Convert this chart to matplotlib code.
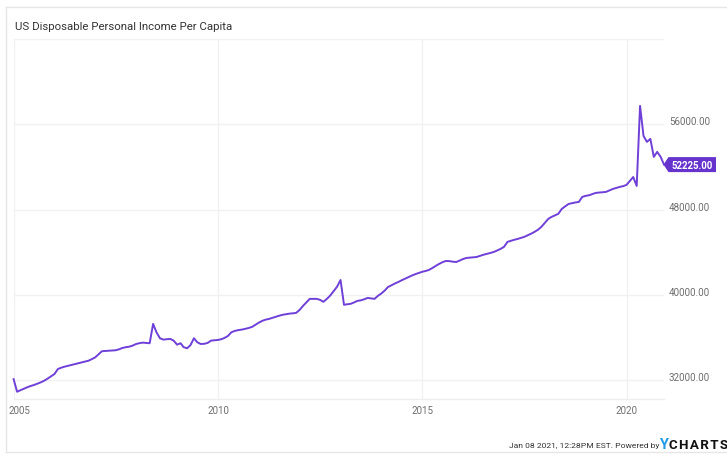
import matplotlib
matplotlib.use('Agg')
import matplotlib.pyplot as plt
from matplotlib.patches import Polygon
from matplotlib.lines import Line2D
import matplotlib.transforms as mtrans
import pandas as pd
import numpy as np

plt.rcParams['font.family'] = ['Roboto', 'DejaVu Sans']

# ---- data (monthly, month-end dated, Dec 2004 - Nov 2020) ----
start_date = '2004-12-31'
v2004 = [32080]
v2005 = [30900, 31030, 31180, 31310, 31430, 31530, 31660, 31780, 31930, 32130, 32340, 32560]
v2006 = [33030, 33150, 33250, 33330, 33410, 33500, 33580, 33660, 33730, 33810, 33960, 34130]
v2007 = [34430, 34700, 34730, 34750, 34770, 34790, 34880, 35010, 35080, 35130, 35230, 35380]
v2008 = [35460, 35510, 35480, 35450, 37270, 36480, 35920, 35790, 35830, 35860, 35700, 35320]
v2009 = [35450, 35080, 34980, 35280, 35920, 35540, 35380, 35400, 35480, 35700, 35730, 35760]
v2010 = [35830, 35950, 36140, 36480, 36610, 36680, 36730, 36800, 36880, 36980, 37180, 37380]
v2011 = [37550, 37660, 37730, 37830, 37930, 38030, 38120, 38180, 38230, 38260, 38300, 38580]
v2012 = [38960, 39280, 39620, 39620, 39620, 39530, 39340, 39620, 39930, 40350, 40760, 41390]
v2013 = [39060, 39110, 39150, 39280, 39430, 39480, 39580, 39710, 39660, 39620, 39900, 40130]
v2014 = [40410, 40730, 40890, 41060, 41200, 41360, 41510, 41670, 41810, 41940, 42050, 42160]
v2015 = [42240, 42330, 42510, 42710, 42900, 43060, 43180, 43160, 43110, 43080, 43210, 43360]
v2016 = [43460, 43490, 43520, 43550, 43660, 43760, 43840, 43930, 44020, 44160, 44310, 44500]
v2017 = [44970, 45060, 45160, 45240, 45340, 45440, 45590, 45740, 45910, 46110, 46380, 46760]
v2018 = [47130, 47310, 47460, 47600, 48060, 48300, 48530, 48600, 48670, 48720, 49190, 49290]
v2019 = [49350, 49450, 49570, 49600, 49630, 49660, 49800, 49940, 50030, 50130, 50200, 50320]
v2020 = [50700, 51060, 50220, 57740, 54920, 54360, 54640, 52950, 53420, 52950, 52225]

yticks = [32000, 40000, 48000, 56000]
ytick_labels = ['32000.00', '40000.00', '48000.00', '56000.00']
xtick_years = [2005, 2010, 2015, 2020]
xtick_labels = ['2005', '2010', '2015', '2020']
title = 'US Disposable Personal Income Per Capita'
last_label = '52225.00'

values = np.array(v2004 + v2005 + v2006 + v2007 + v2008 + v2009 + v2010 + v2011 +
                  v2012 + v2013 + v2014 + v2015 + v2016 + v2017 + v2018 + v2019 + v2020)
dates = pd.date_range(start_date, periods=len(values), freq='ME')

# ---- figure ----
W, H = 727, 456
fig = plt.figure(figsize=(W / 100, H / 100), dpi=100)

def fx(x):
    return x / W

def fy(y):
    return 1 - y / H

# outer border (left, top, bottom)
bc = '#e6e6e6'
fig.add_artist(Line2D([fx(6), fx(6)], [fy(8), fy(453)], color=bc, lw=1))
fig.add_artist(Line2D([fx(6), 1.0], [fy(8), fy(8)], color=bc, lw=1))
fig.add_artist(Line2D([fx(6), 1.0], [fy(453), fy(453)], color=bc, lw=1))

L, R, T, B = 13.6, 664.0, 40.2, 400.0
ax = fig.add_axes([fx(L), fy(B), fx(R) - fx(L), fy(T) - fy(B)])
ax.set_xlim(dates[0], dates[-1])
ax.set_ylim(30216, 64000)
for s in ax.spines.values():
    s.set_visible(False)
ax.set_xticks([])
ax.set_yticks([])

grid_c = '#f1f1f1'
for v in yticks + [64000]:
    ax.axhline(v, color=grid_c, lw=1, zorder=0)
for yr in xtick_years:
    ax.axvline(pd.Timestamp(f'{yr}-01-01'), color=grid_c, lw=1, zorder=0)
ax.axhline(30216, color='#eeeeee', lw=1, zorder=0, clip_on=False)

line_c = '#6f40d8'
ax.plot(dates, values, color=line_c, lw=1.4, solid_joinstyle='round', zorder=3, clip_on=False)

lab_c = '#6e6e6e'
ytr = mtrans.blended_transform_factory(ax.transAxes, ax.transData)
xtr = mtrans.blended_transform_factory(ax.transData, ax.transAxes)
xr = (669 - L) / (R - L)
for v, t in zip(yticks, ytick_labels):
    ax.text(xr, v, t, transform=ytr + mtrans.ScaledTranslation(0, 3 / 100, fig.dpi_scale_trans),
            ha='left', va='center', fontsize=7.1, color=lab_c, clip_on=False)
for yr, t in zip(xtick_years, xtick_labels):
    off = 6 if yr == 2005 else 0
    ax.text(pd.Timestamp(f'{yr}-01-01'), 0, t,
            transform=xtr + mtrans.ScaledTranslation(off / 100, -11 / 100, fig.dpi_scale_trans),
            ha='center', va='center', fontsize=7.0, color=lab_c, clip_on=False)

# title
fig.text(fx(15), fy(27), title, ha='left', va='center', fontsize=8.2, color='#333333')

# last value flag
yc_disp = ax.transData.transform((0, values[-1]))[1]
yc = H - yc_disp
hh = 7.5
poly = Polygon([[fx(663.5), fy(yc)], [fx(668.5), fy(yc - hh)], [fx(716), fy(yc - hh)],
                [fx(716), fy(yc + hh)], [fx(668.5), fy(yc + hh)]],
               closed=True, transform=fig.transFigure, fc='#6633cc', ec='none')
fig.add_artist(poly)
fig.text(fx(692), fy(yc), last_label, ha='center', va='center', fontsize=6.9,
         color='white', fontweight='bold')

# footer
fig.text(fx(659), fy(446), 'Jan 08 2021, 12:28PM EST. Powered by', ha='right', va='center',
         fontsize=6.1, color='#333333')
fig.text(fx(659.5), fy(445.5), 'Y', ha='left', va='center', fontsize=10.5, color='#1f9ae8',
         fontweight='bold')
fig.text(fx(669), fy(445.5), 'C H A R T S'.replace(' ', '\u200a'), ha='left', va='center',
         fontsize=9.6, color='#111111', fontweight='bold')

fig.savefig('out.png', dpi=100)
